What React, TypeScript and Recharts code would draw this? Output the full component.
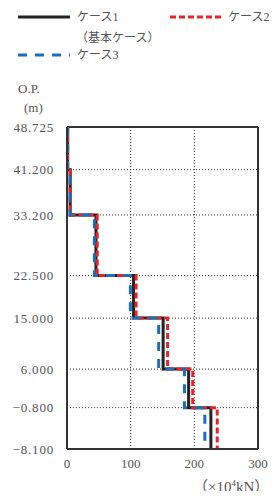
import { CartesianGrid, Line, LineChart, ReferenceLine, XAxis, YAxis } from "recharts";

// O.P. levels (m), top to bottom
const levels = [48.725, 41.2, 33.2, 22.5, 15.0, 6.0, -0.8, -8.1];
// force per layer (x10^4 kN), one value between each pair of levels
const case1 = [1, 5, 45.5, 104.5, 151, 191, 226];
const case2 = [1, 5, 47.5, 108.5, 158, 197.5, 236];
const case3 = [1, 5, 43, 99.5, 144, 184.5, 216.5];
const xTicks = [0, 100, 200, 300];

const series = [
  { key: "c1", name: "ケース1", values: case1, color: "#222222", dash: undefined as string | undefined },
  { key: "c2", name: "ケース2", values: case2, color: "#e8232b", dash: "6 3" },
  { key: "c3", name: "ケース3", values: case3, color: "#1c6fba", dash: "9 8" },
];

const FONT = '"Liberation Serif", "Noto Sans CJK JP", serif';
const TEXT = "#555";
const AXIS = "#333";

function toSteps(values: number[]) {
  const pts: { x: number; y: number }[] = [];
  values.forEach((v, i) => {
    pts.push({ x: v, y: levels[i] });
    pts.push({ x: v, y: levels[i + 1] });
  });
  return pts;
}

const fmtLevel = (v: number) => v.toFixed(3).replace("-", "−");

function Sample({ color, dash }: { color: string; dash?: string }) {
  return (
    <svg width={52} height={6} style={{ display: "block" }}>
      <line x1={0} y1={3} x2={52} y2={3} stroke={color} strokeWidth={3} strokeDasharray={dash} />
    </svg>
  );
}

export default function App() {
  const abs = (left: number, top: number, size = 12): React.CSSProperties => ({
    position: "absolute",
    left,
    top,
    fontSize: size,
    color: TEXT,
    lineHeight: "16px",
    whiteSpace: "nowrap",
  });

  return (
    <div style={{ position: "relative", width: 278, height: 499, margin: -8, fontFamily: FONT, background: "#fff" }}>
      {/* legend */}
      <div style={abs(18, 14)}><Sample color={series[0].color} dash={series[0].dash} /></div>
      <div style={abs(77, 9)}>{series[0].name}</div>
      <div style={abs(170, 14)}><Sample color={series[1].color} dash={series[1].dash} /></div>
      <div style={abs(228, 9)}>{series[1].name}</div>
      <div style={abs(76, 30)}>（基本ケース）</div>
      <div style={abs(18, 52)}><Sample color={series[2].color} dash={series[2].dash} /></div>
      <div style={abs(77, 47)}>{series[2].name}</div>

      <div style={abs(18, 81, 13)}>O.P.</div>
      <div style={abs(24, 100, 13)}>(m)</div>

      <div style={{ position: "absolute", left: 0, top: 0 }}>
        <LineChart width={278} height={499} margin={{ top: 127, right: 20, bottom: 20, left: 7 }}>
          <CartesianGrid stroke={AXIS} strokeDasharray="1 2" />
          <XAxis
            dataKey="x"
            type="number"
            domain={[0, 300]}
            ticks={xTicks}
            height={30}
            tickSize={0}
            tickMargin={10}
            axisLine={{ stroke: AXIS, strokeWidth: 2 }}
            tick={{ fill: TEXT, fontSize: 13, fontFamily: FONT }}
          />
          <YAxis
            dataKey="y"
            type="number"
            domain={[-8.1, 48.725]}
            ticks={levels}
            interval={0}
            width={60}
            tickSize={0}
            tickMargin={13}
            tickFormatter={fmtLevel}
            axisLine={{ stroke: AXIS, strokeWidth: 2 }}
            tick={{ fill: TEXT, fontSize: 13, fontFamily: FONT, letterSpacing: 0.8 }}
          />
          <ReferenceLine y={48.725} stroke={AXIS} strokeWidth={2} />
          <ReferenceLine x={300} stroke={AXIS} strokeWidth={2} />
          {series.map((s) => (
            <Line
              key={s.key}
              data={toSteps(s.values)}
              dataKey="y"
              name={s.name}
              type="linear"
              stroke={s.color}
              strokeWidth={3}
              strokeDasharray={s.dash}
              dot={false}
              activeDot={false}
              isAnimationActive={false}
            />
          ))}
        </LineChart>
      </div>

      <div style={{ ...abs(193, 478, 15), lineHeight: "18px" }}>
        （×10<sup style={{ fontSize: 9, lineHeight: 0 }}>4</sup>kN）
      </div>
    </div>
  );
}
